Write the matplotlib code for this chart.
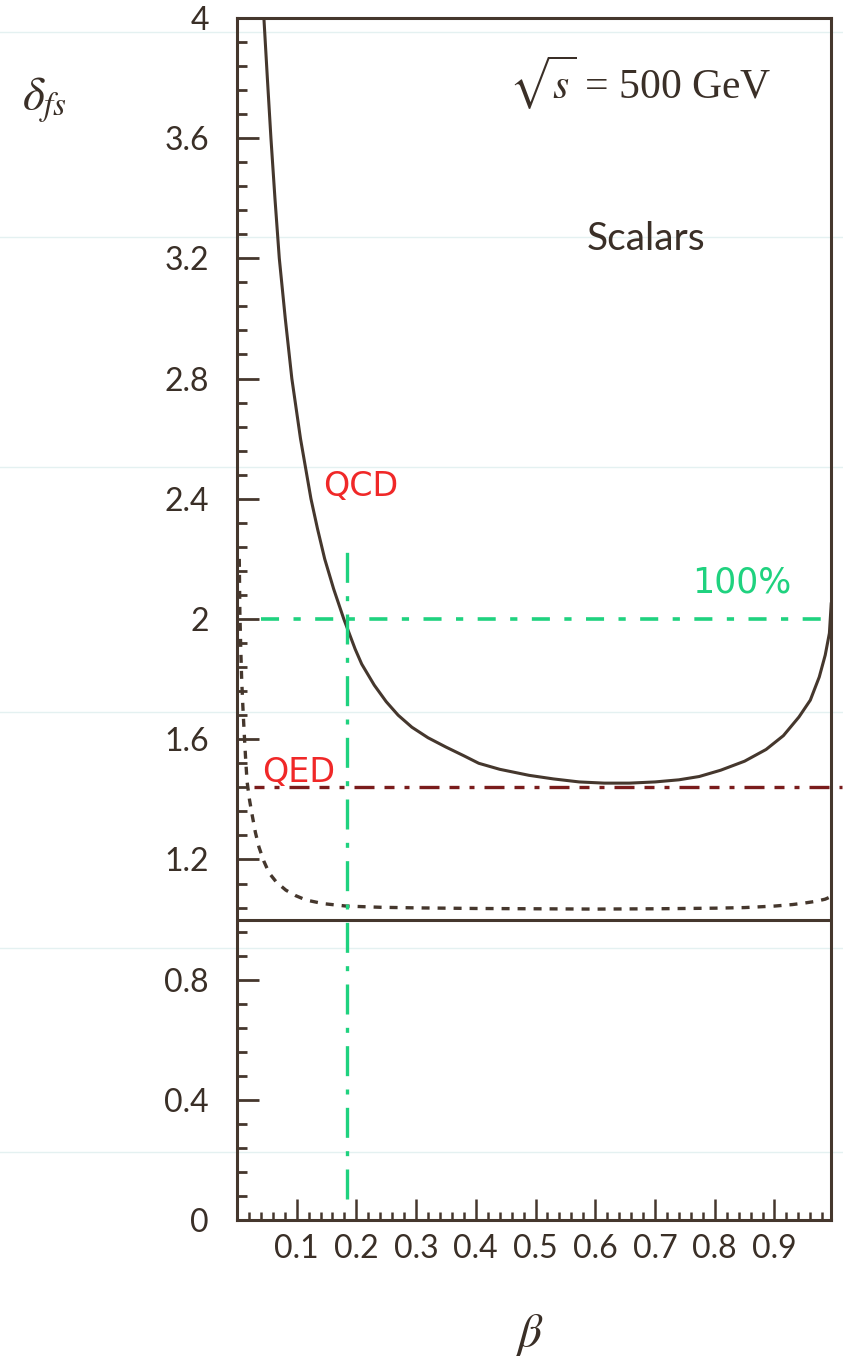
import numpy as np
import matplotlib
matplotlib.use("Agg")
import matplotlib.pyplot as plt
from matplotlib.lines import Line2D
from matplotlib.ticker import MultipleLocator, FixedLocator

plt.rcParams["mathtext.fontset"] = "stix"

# QCD final state factor (solid)
qcd_beta = [0.0452, 0.0510, 0.0570, 0.0637, 0.0710, 0.0810, 0.0920, 0.1065, 0.1240, 0.1350,
            0.1470, 0.1620, 0.1790, 0.1980, 0.2090, 0.2300, 0.2500, 0.2700, 0.2930, 0.3200,
            0.350, 0.380, 0.405, 0.440, 0.489, 0.530, 0.573, 0.615, 0.657, 0.700,
            0.740, 0.774, 0.810, 0.850, 0.886, 0.915, 0.941, 0.960, 0.975, 0.985,
            0.992, 0.995]
qcd_delta = [4.00, 3.80, 3.60, 3.40, 3.20, 3.00, 2.80, 2.60, 2.40, 2.30,
             2.20, 2.10, 2.00, 1.90, 1.85, 1.78, 1.725, 1.68, 1.64, 1.605,
             1.574, 1.545, 1.52, 1.50, 1.48, 1.468, 1.458, 1.454, 1.454, 1.458,
             1.465, 1.476, 1.497, 1.527, 1.566, 1.612, 1.674, 1.73, 1.807, 1.88,
             1.953, 2.05]

# QED final state factor (dotted)
qed_beta = [0.004, 0.005, 0.0065, 0.008, 0.010, 0.012, 0.0145, 0.017, 0.021, 0.025,
            0.031, 0.037, 0.045, 0.054, 0.066, 0.082, 0.098, 0.116, 0.145, 0.183,
            0.24, 0.30, 0.40, 0.50, 0.60, 0.70, 0.80, 0.85, 0.90, 0.93,
            0.95, 0.97, 0.985, 0.993]
qed_delta = [2.20, 2.02, 1.90, 1.80, 1.71, 1.63, 1.54, 1.46, 1.40, 1.354,
             1.29, 1.241, 1.195, 1.155, 1.125, 1.098, 1.080, 1.065, 1.053, 1.045,
             1.041, 1.039, 1.037, 1.036, 1.035, 1.036, 1.038, 1.040, 1.045, 1.050,
             1.055, 1.061, 1.068, 1.075]

# hand drawn guide lines
qed_level = 1.44
full_level = 2.0
beta_cross = 0.184

yticks = [0, 0.4, 0.8, 1.2, 1.6, 2.0, 2.4, 2.8, 3.2, 3.6, 4.0]
ytick_labels = ["0", "0.4", "0.8", "1.2", "1.6", "2", "2.4", "2.8", "3.2", "3.6", "4"]
xticks = [0.1, 0.2, 0.3, 0.4, 0.5, 0.6, 0.7, 0.8, 0.9]
xtick_labels = ["0.1", "0.2", "0.3", "0.4", "0.5", "0.6", "0.7", "0.8", "0.9"]

ink = "#45372d"
textc = "#3a2f27"
green = "#1fd27f"
red = "#f02828"
darkred = "#7a1c1c"

fig = plt.figure(figsize=(8.43, 13.71), dpi=100)
fig.patch.set_facecolor("white")

# faint ruled lines of the scanned page
for yp in [32, 237, 467, 712, 948, 1152]:
    fig.add_artist(Line2D([0, 1], [1 - yp / 1371] * 2, transform=fig.transFigure,
                          color="#e4f1f1", lw=1, zorder=0))

ax = fig.add_axes([0.281, 0.110, 0.705, 0.877])
ax.set_facecolor("none")
ax.set_xlim(0, 0.995)
ax.set_ylim(0, 4)

ax.plot(qcd_beta, qcd_delta, color=ink, lw=2.2, solid_joinstyle="round")
ax.plot(qed_beta, qed_delta, color=ink, lw=2.4, linestyle=(0, (2.4, 2.4)))
ax.axhline(1.0, color=ink, lw=2.2)

ax.plot([0.028, 1.013], [qed_level, qed_level], color=darkred, lw=2.4,
        linestyle=(0, (3, 3, 1.5, 3, 6, 3)), clip_on=False)
ax.plot([0.040, 0.995], [full_level, full_level], color=green, lw=2.6,
        linestyle=(0, (5, 4, 2, 4)))
ax.plot([beta_cross, beta_cross], [0.07, 2.24], color=green, lw=2.4,
        linestyle=(0, (9, 4, 1.5, 4)))

for side in ax.spines.values():
    side.set_color(ink)
    side.set_linewidth(2.2)

ax.yaxis.set_major_locator(FixedLocator(yticks))
ax.set_yticklabels(ytick_labels)
ax.yaxis.set_minor_locator(MultipleLocator(0.08))
ax.xaxis.set_major_locator(FixedLocator(xticks))
ax.set_xticklabels(xtick_labels)
ax.xaxis.set_minor_locator(MultipleLocator(0.02))

ax.tick_params(which="both", direction="in", colors=ink, top=False, right=False)
ax.tick_params(axis="y", which="major", length=16, width=2, pad=20, labelsize=23)
ax.tick_params(axis="y", which="minor", length=7, width=2)
ax.tick_params(axis="x", which="major", length=15, width=1.8, pad=10, labelsize=23)
ax.tick_params(axis="x", which="minor", length=6, width=1.8)
for lab in ax.get_xticklabels() + ax.get_yticklabels():
    lab.set_fontfamily("Lato")
    lab.set_color(textc)

ax.text(0.675, 3.785, r"$\sqrt{s}$ = 500 GeV", ha="center", va="center",
        fontsize=30, color=textc, family="Liberation Serif")
ax.text(0.685, 3.265, "Scalars", ha="center", va="center", fontsize=28,
        color=textc, family="Lato")

ax.text(0.208, 2.44, "QCD", ha="center", va="center", fontsize=24, color=red,
        family="DejaVu Sans")
ax.text(0.104, 1.49, "QED", ha="center", va="center", fontsize=24, color=red,
        family="DejaVu Sans")
ax.text(0.845, 2.12, "100%", ha="center", va="center", fontsize=25, color=green,
        family="DejaVu Sans")

fig.text(45 / 843, 1 - 100 / 1371, r"$\delta_{fs}$", ha="center", va="center",
         fontsize=34, color=textc)
fig.text(530 / 843, 1 - 1335 / 1371, r"$\beta$", ha="center", va="center",
         fontsize=34, color=textc)

fig.savefig("out.png", dpi=100, facecolor="white")
